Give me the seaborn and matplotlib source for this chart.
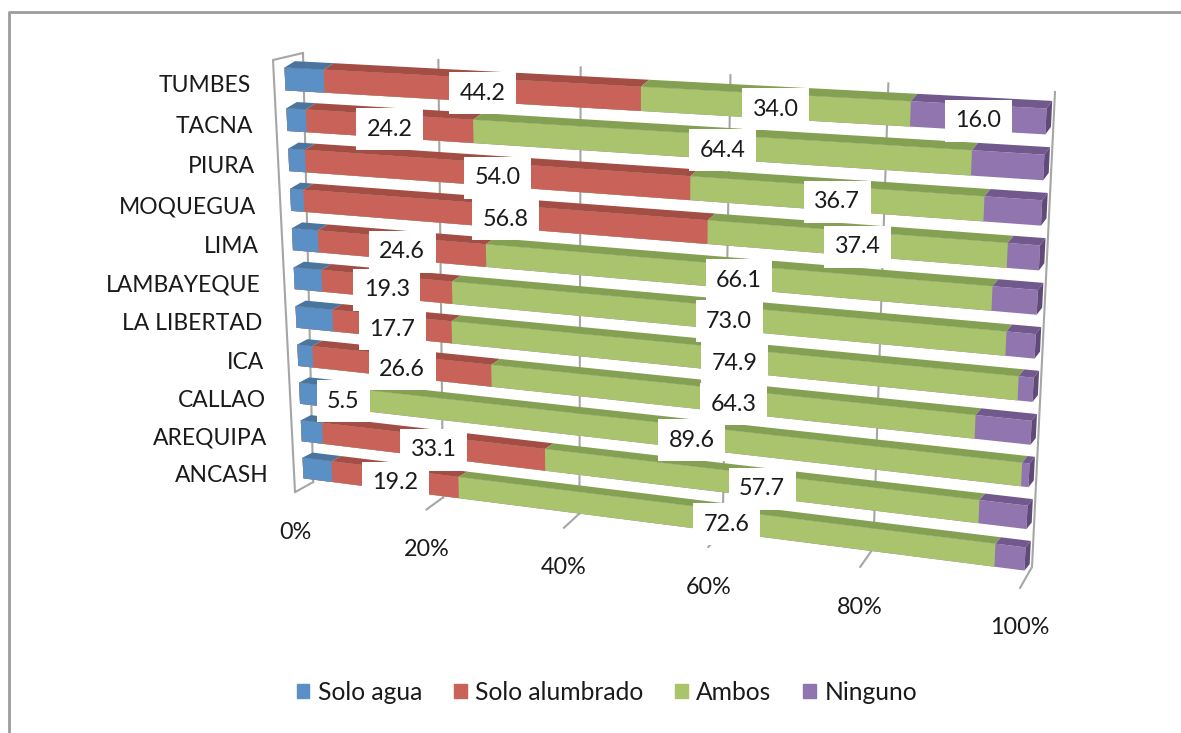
import numpy as np
import seaborn as sns
import matplotlib
matplotlib.use("Agg")
import matplotlib.pyplot as plt
from matplotlib.lines import Line2D
from matplotlib.patches import Patch
from matplotlib.transforms import IdentityTransform, Transform

# values read off the picture (agua / ninguno are estimated from bar widths)
regiones = ["TUMBES", "TACNA", "PIURA", "MOQUEGUA", "LIMA", "LAMBAYEQUE",
            "LA LIBERTAD", "ICA", "CALLAO", "AREQUIPA", "ANCASH"]
solo_agua = [5.8, 2.9, 2.5, 2.0, 3.9, 4.2, 5.6, 2.3, 4.0, 3.3, 4.5]
solo_alumbrado = [44.2, 24.2, 54.0, 56.8, 24.6, 19.3, 17.7, 26.6, 5.5, 33.1, 19.2]
ambos = [34.0, 64.4, 36.7, 37.4, 66.1, 73.0, 74.9, 64.3, 89.6, 57.7, 72.6]
ninguno = [16.0, 8.5, 6.8, 3.8, 5.4, 3.5, 1.8, 6.8, 0.9, 5.9, 3.7]
ticks = [0, 20, 40, 60, 80, 100]

series = ["Solo agua", "Solo alumbrado", "Ambos", "Ninguno"]
colores = ["#5B90C7", "#C9635A", "#A9C46C", "#9075AF"]
oscuros = ["#49759F", "#A34D45", "#84A052", "#72598D"]
W, H = 1181, 733


class Perspective(Transform):
    # maps a flat chart plane (x, v) on to a four cornered area of the picture
    input_dims = output_dims = 2
    is_separable = False
    has_inverse = False

    def __init__(self, x0, x1, v0, v1, corners):
        super().__init__()
        src = [(x0, v0), (x1, v0), (x0, v1), (x1, v1)]
        A, b = [], []
        for (x, y), (px, py) in zip(src, corners):
            A.append([x, y, 1, 0, 0, 0, -px * x, -px * y])
            A.append([0, 0, 0, x, y, 1, -py * x, -py * y])
            b += [px, py]
        self.m = np.append(np.linalg.solve(np.array(A, float), np.array(b, float)), 1).reshape(3, 3)

    def transform_non_affine(self, values):
        pts = np.c_[values, np.ones(len(values))] @ self.m.T
        return np.c_[pts[:, 0] / pts[:, 2], H - pts[:, 1] / pts[:, 2]]


# rows: 0 = TUMBES ... 10 = ANCASH
plano = Perspective(0, 100, 0, 10, [(285, 79), (1046, 121.5), (303, 468), (1025, 559)])
# back wall, its lower left corner raised a little to get the stronger foreshortening of the axis
pared = Perspective(0, 100, 0, 1, [(313, 474), (1032, 567), (303, 53), (1055, 92)])
pared_izq = Perspective(0, 1, 0, 1, [(295, 492), (313, 482), (273, 60), (303, 53)])

plt.rcParams["font.family"] = ["Lato", "DejaVu Sans"]
fig = plt.figure(figsize=(W / 100, H / 100), dpi=100)
ax = fig.add_axes([0, 0, 1, 1])

acumulado = np.cumsum([solo_agua, solo_alumbrado, ambos, ninguno], axis=0)
alto = 0.56
prof = 0.17
texto = "#1a1a1a"

# stacked bars: longest first, each shorter one painted over it
for i in [3, 2, 1, 0]:
    sns.barplot(x=acumulado[i], y=regiones, color=colores[i], saturation=1, width=alto,
                orient="h", linewidth=0, ax=ax)
for p in ax.patches:
    p.set_transform(plano)
    p.set_clip_on(False)

# top faces and the end of each bar
fondo = lambda x: 1.6 - 0.01 * x
for r in range(len(regiones)):
    inicio = 0
    sup = r - alto / 2
    for i in range(4):
        fin = acumulado[i][r]
        ax.fill([inicio, fin, fin + fondo(fin), inicio + fondo(inicio)],
                [sup, sup, sup - prof, sup - prof],
                color=oscuros[i], lw=0, transform=plano, clip_on=False, zorder=1)
        inicio = fin
    ax.fill([fin, fin + fondo(fin), fin + fondo(fin), fin],
            [sup, sup - prof, r + alto / 2 - prof, r + alto / 2],
            color="#5F4A78", lw=0, transform=plano, clip_on=False, zorder=1)

# walls, gridlines, floor ticks
gris = "#A6A6A6"
for t in ticks:
    base = -0.02 * (1 - t / 100)
    ax.plot([t, t], [base, 1], color=gris, lw=1.5, transform=pared, clip_on=False, zorder=0)
    dx, dy = -18 + 6 * t / 100, -10 - 11 * t / 100
    ax.annotate("", xy=(t, base), xycoords=pared, xytext=(dx, dy), textcoords="offset pixels",
                arrowprops=dict(arrowstyle="-", color=gris, lw=1.5, shrinkA=0, shrinkB=0), zorder=0)
    ax.annotate(f"{t}%", xy=(t, base), xycoords=pared, xytext=(dx, dy - 40), textcoords="offset pixels",
                ha="center", va="center", fontsize=16.8, color=texto)
ax.plot([0, 0, 1], [0, 1, 1], color=gris, lw=1.5, transform=pared_izq, clip_on=False, zorder=0)

for r, nombre in enumerate(regiones):
    ax.annotate(nombre, xy=(0, r), xycoords=plano, xytext=(-34, -7), textcoords="offset pixels",
                ha="right", va="center", fontsize=16.5, color=texto)
    inicio = acumulado[0][r]
    for vals, cum in [(solo_alumbrado, acumulado[1]), (ambos, acumulado[2]), (ninguno, acumulado[3])]:
        fin = cum[r]
        if vals is not ninguno or vals[r] >= 10:
            # label sits halfway along the drawn segment, not at its middle value
            mx, my = plano.transform([(inicio, r), (fin, r)]).mean(axis=0)
            ax.text(mx, my - 3, f"{vals[r]:.1f}", transform=IdentityTransform(), ha="center", va="center",
                    fontsize=16.8, color=texto, zorder=5,
                    bbox=dict(boxstyle="square,pad=0.45", fc="white", ec="none"))
        inicio = fin

ax.set_xlim(0, 100)
ax.set_axis_off()

handles = [Patch(color=c, label=s) for c, s in zip(colores, series)]
fig.legend(handles=handles, ncol=4, frameon=False, fontsize=17.7, loc="center",
           bbox_to_anchor=(607 / W, 1 - 692 / H), handlelength=0.5, handleheight=0.5,
           handletextpad=0.35, columnspacing=1.3, labelcolor=texto)

# chart frame
fig.add_artist(Line2D([9.5 / W, 9.5 / W, 1], [0, 1 - 11.5 / H, 1 - 11.5 / H],
                      transform=fig.transFigure, color="#9C9C9C", lw=2))

fig.savefig("out.png", dpi=100)
